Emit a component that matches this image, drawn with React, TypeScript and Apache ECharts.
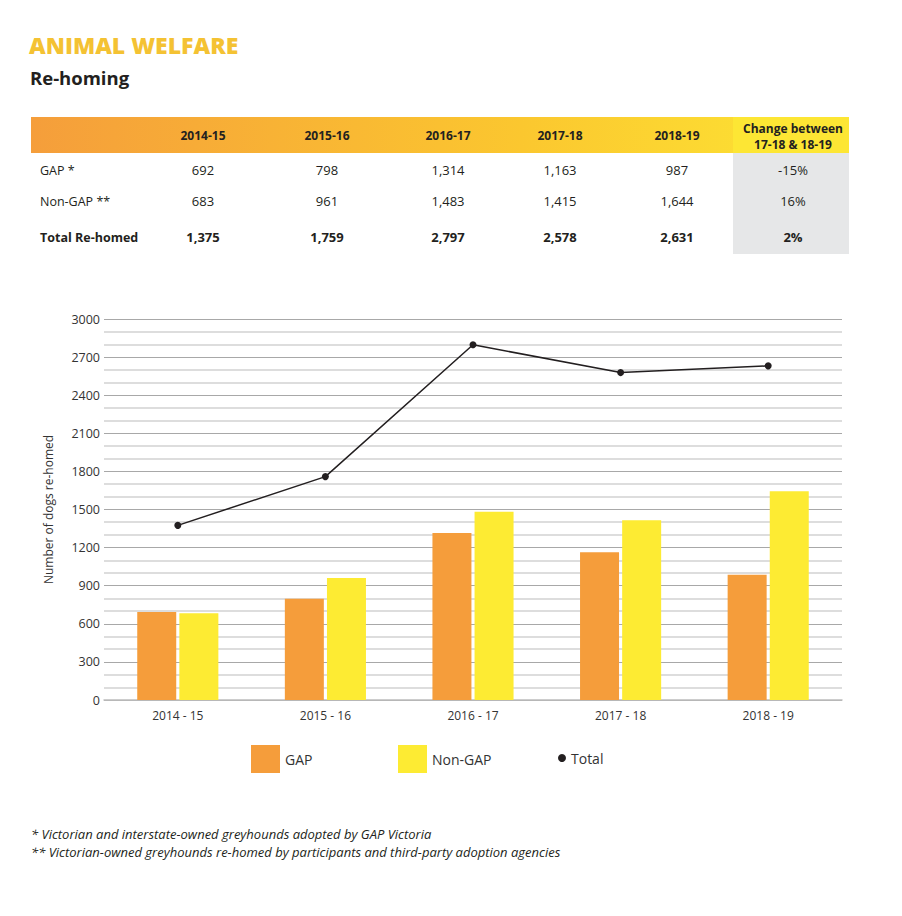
import React, { useEffect, useRef } from "react";
import * as echarts from "echarts";

const tableYears = ["2014-15", "2015-16", "2016-17", "2017-18", "2018-19"];
const categories = ["2014 - 15", "2015 - 16", "2016 - 17", "2017 - 18", "2018 - 19"];
const gapValues = [692, 798, 1314, 1163, 987];
const nonGapValues = [683, 961, 1483, 1415, 1644];
const totalValues = [1375, 1759, 2797, 2578, 2631];
const changeValues = ["-15%", "16%", "2%"];
const changeHeader = ["Change between", "17-18 & 18-19"];
const rowLabels = ["GAP *", "Non-GAP **", "Total Re-homed"];
const footnotes = [
  "* Victorian and interstate-owned greyhounds adopted by GAP Victoria",
  "** Victorian-owned greyhounds re-homed by participants and third-party adoption agencies",
];

const FONT = "'Open Sans', 'Noto Sans', sans-serif";
const fmt = (v: number) => v.toLocaleString("en-US");

export default function App() {
  const ref = useRef<HTMLDivElement>(null);
  useEffect(() => {
    if (!ref.current) return;
    const chart = echarts.init(ref.current, undefined, { renderer: "svg" });

    const colX = [203, 327, 448, 560, 677];
    const rowY = [170, 201, 237];
    const rows = [gapValues, nonGapValues, totalValues];
    const graphic: any[] = [];

    graphic.push({
      type: "text", left: 29, top: 33,
      style: { text: "ANIMAL WELFARE", fill: "#F4C233", font: `800 23px ${FONT}` },
    });
    graphic.push({
      type: "text", left: 30, top: 68,
      style: { text: "Re-homing", fill: "#231F20", font: `bold 18.5px ${FONT}` },
    });
    graphic.push({
      type: "rect", shape: { x: 31, y: 117, width: 818, height: 36 },
      style: {
        fill: new echarts.graphic.LinearGradient(0, 0, 1, 0, [
          { offset: 0, color: "#F59E3B" },
          { offset: 0.6, color: "#FBC72F" },
          { offset: 1, color: "#FDE634" },
        ]),
      },
    });
    graphic.push({
      type: "rect", shape: { x: 733, y: 117, width: 116, height: 36 },
      style: { fill: "#FDE634" },
    });
    graphic.push({
      type: "rect", shape: { x: 733, y: 153, width: 116, height: 101 },
      style: { fill: "#E6E7E8" },
    });
    tableYears.forEach((y, i) => {
      graphic.push({
        type: "text", x: colX[i], y: 135,
        style: { text: y, fill: "#231F20", font: `bold 12px ${FONT}`, align: "center", verticalAlign: "middle" },
      });
    });
    changeHeader.forEach((t, i) => {
      graphic.push({
        type: "text", x: 793, y: 128 + i * 16,
        style: { text: t, fill: "#231F20", font: `bold 12px ${FONT}`, align: "center", verticalAlign: "middle" },
      });
    });
    rowLabels.forEach((label, r) => {
      const bold = r === 2;
      const font = `${bold ? "bold " : ""}13px ${FONT}`;
      graphic.push({
        type: "text", x: 40, y: rowY[r],
        style: { text: label, fill: "#231F20", font: `${bold ? "bold " : ""}12.5px ${FONT}`, verticalAlign: "middle" },
      });
      rows[r].forEach((v, i) => {
        graphic.push({
          type: "text", x: colX[i], y: rowY[r],
          style: { text: fmt(v), fill: "#231F20", font, align: "center", verticalAlign: "middle" },
        });
      });
      graphic.push({
        type: "text", x: 793, y: rowY[r],
        style: { text: changeValues[r], fill: "#231F20", font, align: "center", verticalAlign: "middle" },
      });
    });
    footnotes.forEach((t, i) => {
      graphic.push({
        type: "text", x: 31, y: 834 + i * 18,
        style: { text: t, fill: "#231F20", font: `italic 13px ${FONT}`, verticalAlign: "middle" },
      });
    });

    const legendBase = {
      top: 745, itemWidth: 29, itemHeight: 28, itemGap: 0, padding: 0,
      textStyle: { fontFamily: FONT, fontSize: 14, color: "#333" },
    };

    chart.setOption({
      animation: false,
      graphic,
      legend: [
        { ...legendBase, left: 251, data: ["GAP"], icon: "rect" },
        { ...legendBase, left: 398, data: ["Non-GAP"], icon: "rect" },
        { ...legendBase, left: 558, top: 751, data: ["Total"], icon: "circle", itemWidth: 8, itemHeight: 8 },
      ],
      grid: { left: 104, right: 60, top: 319, bottom: 216, containLabel: false },
      xAxis: {
        type: "category",
        data: categories,
        axisLine: { show: true, lineStyle: { color: "#bdbdbd", width: 1.5 } },
        axisTick: { show: false },
        axisLabel: { fontFamily: FONT, fontSize: 12, color: "#333", margin: 9 },
      },
      yAxis: {
        type: "value",
        min: 0, max: 3000, interval: 300,
        name: "Number of dogs re-homed",
        nameLocation: "middle",
        nameGap: 50,
        nameTextStyle: { fontFamily: FONT, fontSize: 12, color: "#333" },
        axisLine: { show: false },
        axisTick: { show: false },
        axisLabel: {
          fontFamily: FONT, fontSize: 12.5, color: "#333", margin: 4,
          formatter: (v: number) => String(v),
        },
        splitLine: { show: true, lineStyle: { color: "#a8a8a8", width: 1 } },
        minorTick: { show: false, splitNumber: 3 },
        minorSplitLine: { show: true, lineStyle: { color: "#d2d2d2", width: 1.5 } },
      },
      series: [
        {
          name: "GAP", type: "bar", data: gapValues, barWidth: 39, barGap: "8%",
          itemStyle: { color: "#F59D3B" },
        },
        {
          name: "Non-GAP", type: "bar", data: nonGapValues, barWidth: 39,
          itemStyle: { color: "#FDEB33" },
        },
        {
          name: "Total", type: "line", data: totalValues,
          symbol: "circle", symbolSize: 7,
          lineStyle: { color: "#231F20", width: 1.5 },
          itemStyle: { color: "#231F20" },
        },
      ],
    });
    return () => chart.dispose();
  }, []);

  return (
    <div
      ref={ref}
      style={{ position: "fixed", left: 0, top: 0, width: 902, height: 916, background: "#fff" }}
    />
  );
}
